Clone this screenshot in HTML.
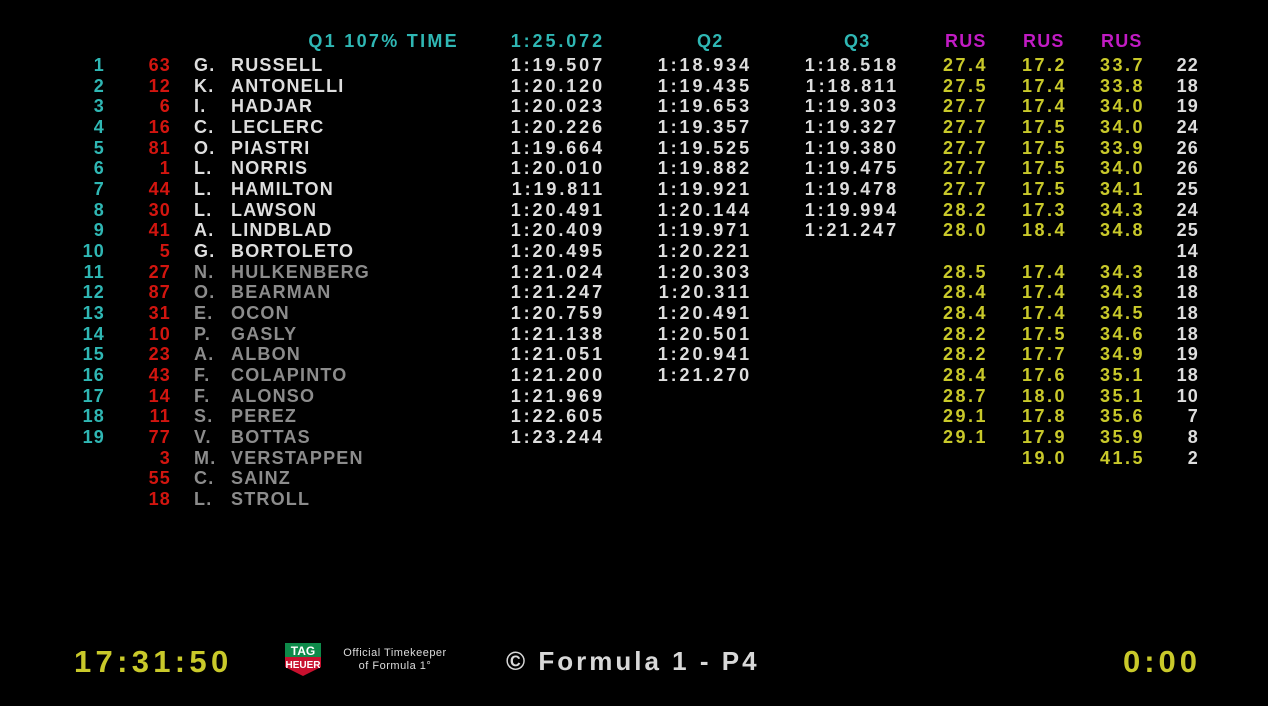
<!DOCTYPE html>
<html><head><meta charset="utf-8"><style>
html,body{margin:0;padding:0;background:#000;width:1268px;height:706px;overflow:hidden}
body{position:relative;font-family:"Liberation Sans","DejaVu Sans",sans-serif;font-weight:bold;font-size:18px;color:#dedede}
.r{position:absolute;left:0;width:1268px;height:21px;line-height:21px}
.r span{position:absolute;top:0;white-space:nowrap;letter-spacing:1.2px}
.p{right:1163px;color:#2fb7b4;text-align:right}
.n{right:1097px;color:#d2150f;text-align:right}
.i{left:194px}
.s{left:231px}
.g span.i,.g span.s{color:#8c8c8c}
.r span.q1,.r span.q2,.r span.q3{letter-spacing:2.9px}
.q1{right:663px}.q2{right:516px}.q3{right:369px}
.r span.a,.r span.b,.r span.c{letter-spacing:2.5px}
.a{right:280px;color:#c9c92a}.b{right:201px;color:#c9c92a}.c{right:123px;color:#c9c92a}
.l{right:69px}
.h span{color:#2fb7b4}
.r.h span.t{letter-spacing:2.3px}
.h .m{color:#c21bc4}
</style></head><body>
<div class="r h" style="top:31px"><span class="t" style="right:809px">Q1 107% TIME</span><span class="q1" style="color:#2fb7b4">1:25.072</span><span style="left:697px">Q2</span><span style="left:844px">Q3</span><span class="m" style="left:945px">RUS</span><span class="m" style="left:1023px">RUS</span><span class="m" style="left:1101px">RUS</span></div>

<div class="r" style="top:55px"><span class="p">1</span><span class="n">63</span><span class="i">G.</span><span class="s">RUSSELL</span><span class="q1">1:19.507</span><span class="q2">1:18.934</span><span class="q3">1:18.518</span><span class="a">27.4</span><span class="b">17.2</span><span class="c">33.7</span><span class="l">22</span></div>
<div class="r" style="top:75.7px"><span class="p">2</span><span class="n">12</span><span class="i">K.</span><span class="s">ANTONELLI</span><span class="q1">1:20.120</span><span class="q2">1:19.435</span><span class="q3">1:18.811</span><span class="a">27.5</span><span class="b">17.4</span><span class="c">33.8</span><span class="l">18</span></div>
<div class="r" style="top:96.3px"><span class="p">3</span><span class="n">6</span><span class="i">I.</span><span class="s">HADJAR</span><span class="q1">1:20.023</span><span class="q2">1:19.653</span><span class="q3">1:19.303</span><span class="a">27.7</span><span class="b">17.4</span><span class="c">34.0</span><span class="l">19</span></div>
<div class="r" style="top:117px"><span class="p">4</span><span class="n">16</span><span class="i">C.</span><span class="s">LECLERC</span><span class="q1">1:20.226</span><span class="q2">1:19.357</span><span class="q3">1:19.327</span><span class="a">27.7</span><span class="b">17.5</span><span class="c">34.0</span><span class="l">24</span></div>
<div class="r" style="top:137.7px"><span class="p">5</span><span class="n">81</span><span class="i">O.</span><span class="s">PIASTRI</span><span class="q1">1:19.664</span><span class="q2">1:19.525</span><span class="q3">1:19.380</span><span class="a">27.7</span><span class="b">17.5</span><span class="c">33.9</span><span class="l">26</span></div>
<div class="r" style="top:158.3px"><span class="p">6</span><span class="n">1</span><span class="i">L.</span><span class="s">NORRIS</span><span class="q1">1:20.010</span><span class="q2">1:19.882</span><span class="q3">1:19.475</span><span class="a">27.7</span><span class="b">17.5</span><span class="c">34.0</span><span class="l">26</span></div>
<div class="r" style="top:179px"><span class="p">7</span><span class="n">44</span><span class="i">L.</span><span class="s">HAMILTON</span><span class="q1">1:19.811</span><span class="q2">1:19.921</span><span class="q3">1:19.478</span><span class="a">27.7</span><span class="b">17.5</span><span class="c">34.1</span><span class="l">25</span></div>
<div class="r" style="top:199.7px"><span class="p">8</span><span class="n">30</span><span class="i">L.</span><span class="s">LAWSON</span><span class="q1">1:20.491</span><span class="q2">1:20.144</span><span class="q3">1:19.994</span><span class="a">28.2</span><span class="b">17.3</span><span class="c">34.3</span><span class="l">24</span></div>
<div class="r" style="top:220.3px"><span class="p">9</span><span class="n">41</span><span class="i">A.</span><span class="s">LINDBLAD</span><span class="q1">1:20.409</span><span class="q2">1:19.971</span><span class="q3">1:21.247</span><span class="a">28.0</span><span class="b">18.4</span><span class="c">34.8</span><span class="l">25</span></div>
<div class="r" style="top:241px"><span class="p">10</span><span class="n">5</span><span class="i">G.</span><span class="s">BORTOLETO</span><span class="q1">1:20.495</span><span class="q2">1:20.221</span><span class="l">14</span></div>
<div class="r g" style="top:261.7px"><span class="p">11</span><span class="n">27</span><span class="i">N.</span><span class="s">HULKENBERG</span><span class="q1">1:21.024</span><span class="q2">1:20.303</span><span class="a">28.5</span><span class="b">17.4</span><span class="c">34.3</span><span class="l">18</span></div>
<div class="r g" style="top:282.3px"><span class="p">12</span><span class="n">87</span><span class="i">O.</span><span class="s">BEARMAN</span><span class="q1">1:21.247</span><span class="q2">1:20.311</span><span class="a">28.4</span><span class="b">17.4</span><span class="c">34.3</span><span class="l">18</span></div>
<div class="r g" style="top:303px"><span class="p">13</span><span class="n">31</span><span class="i">E.</span><span class="s">OCON</span><span class="q1">1:20.759</span><span class="q2">1:20.491</span><span class="a">28.4</span><span class="b">17.4</span><span class="c">34.5</span><span class="l">18</span></div>
<div class="r g" style="top:323.7px"><span class="p">14</span><span class="n">10</span><span class="i">P.</span><span class="s">GASLY</span><span class="q1">1:21.138</span><span class="q2">1:20.501</span><span class="a">28.2</span><span class="b">17.5</span><span class="c">34.6</span><span class="l">18</span></div>
<div class="r g" style="top:344.3px"><span class="p">15</span><span class="n">23</span><span class="i">A.</span><span class="s">ALBON</span><span class="q1">1:21.051</span><span class="q2">1:20.941</span><span class="a">28.2</span><span class="b">17.7</span><span class="c">34.9</span><span class="l">19</span></div>
<div class="r g" style="top:365px"><span class="p">16</span><span class="n">43</span><span class="i">F.</span><span class="s">COLAPINTO</span><span class="q1">1:21.200</span><span class="q2">1:21.270</span><span class="a">28.4</span><span class="b">17.6</span><span class="c">35.1</span><span class="l">18</span></div>
<div class="r g" style="top:385.7px"><span class="p">17</span><span class="n">14</span><span class="i">F.</span><span class="s">ALONSO</span><span class="q1">1:21.969</span><span class="a">28.7</span><span class="b">18.0</span><span class="c">35.1</span><span class="l">10</span></div>
<div class="r g" style="top:406.3px"><span class="p">18</span><span class="n">11</span><span class="i">S.</span><span class="s">PEREZ</span><span class="q1">1:22.605</span><span class="a">29.1</span><span class="b">17.8</span><span class="c">35.6</span><span class="l">7</span></div>
<div class="r g" style="top:427px"><span class="p">19</span><span class="n">77</span><span class="i">V.</span><span class="s">BOTTAS</span><span class="q1">1:23.244</span><span class="a">29.1</span><span class="b">17.9</span><span class="c">35.9</span><span class="l">8</span></div>
<div class="r g" style="top:447.7px"><span class="n">3</span><span class="i">M.</span><span class="s">VERSTAPPEN</span><span class="b">19.0</span><span class="c">41.5</span><span class="l">2</span></div>
<div class="r g" style="top:468.3px"><span class="n">55</span><span class="i">C.</span><span class="s">SAINZ</span></div>
<div class="r g" style="top:489px"><span class="n">18</span><span class="i">L.</span><span class="s">STROLL</span></div>

<div style="position:absolute;left:74px;top:645px;font-size:31px;line-height:34px;color:#c9c92a;letter-spacing:4.3px">17:31:50</div>
<div style="position:absolute;right:67px;top:645px;font-size:31px;line-height:34px;color:#c9c92a;letter-spacing:4px;padding-right:0">0:00</div>
<svg style="position:absolute;left:285px;top:643px" width="36" height="33" viewBox="0 0 36 33">
<rect x="0" y="0" width="36" height="14" fill="#0e8a4a"/>
<path d="M0 14 H36 V24 L18 33 L0 24 Z" fill="#c8102e"/>
<text x="18" y="12" font-family="Liberation Sans" font-weight="bold" font-size="12" fill="#fff" text-anchor="middle">TAG</text>
<text x="18" y="25" font-family="Liberation Sans" font-weight="bold" font-size="10" fill="#fff" text-anchor="middle">HEUER</text>
</svg>
<div style="position:absolute;left:325px;top:647px;width:140px;text-align:center;font-size:11px;line-height:13px;font-weight:normal;color:#ddd;letter-spacing:0.5px">Official Timekeeper<br>of Formula 1°</div>
<div style="position:absolute;left:506px;top:645px;font-size:26px;line-height:32px;color:#d8d8d8;letter-spacing:3px">© Formula 1 - P4</div>
</body></html>
